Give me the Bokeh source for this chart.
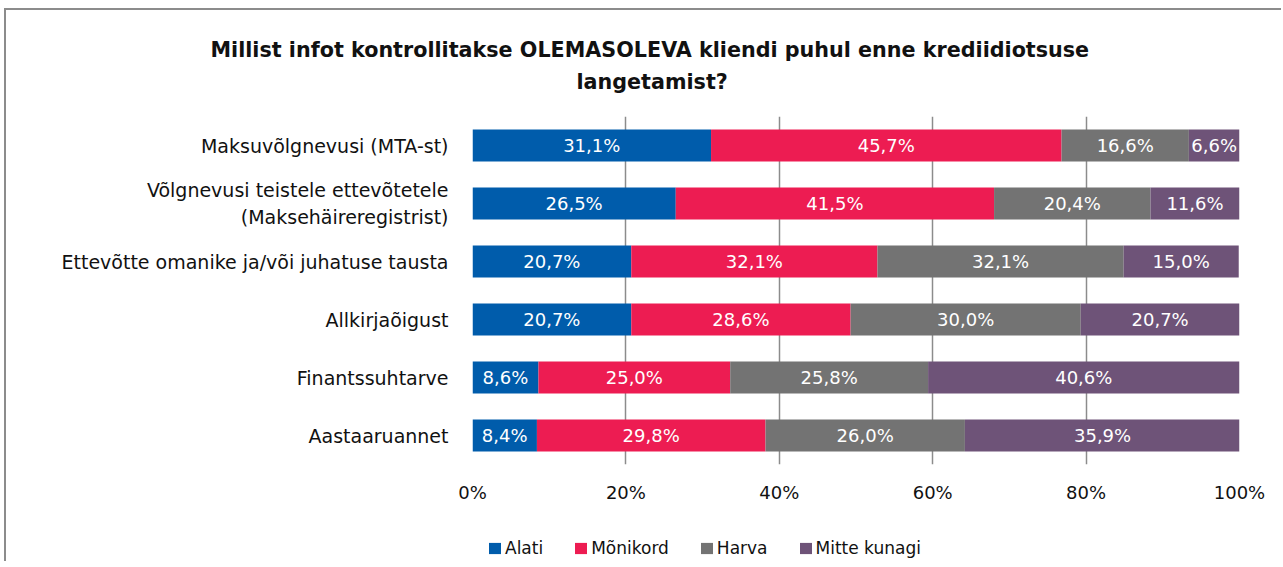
from bokeh.plotting import figure
from bokeh.layouts import column
from bokeh.models import (FactorRange, ColumnDataSource, LabelSet, Legend, LegendItem,
                          Title, FixedTicker, Range1d)
from bokeh.core.properties import value
from bokeh.embed import file_html
from bokeh.resources import INLINE

categories = ["Maksuvõlgnevusi (MTA-st)",
              "Võlgnevusi teistele ettevõtetele\n(Maksehäireregistrist)",
              "Ettevõtte omanike ja/või juhatuse tausta",
              "Allkirjaõigust",
              "Finantssuhtarve",
              "Aastaaruannet"]
series_names = ["Alati", "Mõnikord", "Harva", "Mitte kunagi"]
alati = [31.1, 26.5, 20.7, 20.7, 8.6, 8.4]
monikord = [45.7, 41.5, 32.1, 28.6, 25.0, 29.8]
harva = [16.6, 20.4, 32.1, 30.0, 25.8, 26.0]
mitte = [6.6, 11.6, 15.0, 20.7, 40.6, 35.9]
x_ticks = [0, 20, 40, 60, 80, 100]
x_tick_labels = ["0%", "20%", "40%", "60%", "80%", "100%"]
title_lines = ["Millist infot kontrollitakse OLEMASOLEVA kliendi puhul enne krediidiotsuse",
               "langetamist?"]
colors = ["#005CAB", "#ED1C52", "#737373", "#6E5378"]

FONT = "DejaVu Sans"
keys = ["alati", "monikord", "harva", "mitte"]
data = dict(cat=categories, alati=alati, monikord=monikord, harva=harva, mitte=mitte)
src = ColumnDataSource(data)

W = 1275
p = figure(width=W, height=505, output_backend="svg", toolbar_location=None,
           y_range=FactorRange(factors=list(reversed(categories))),
           x_range=Range1d(0, 100),
           min_border_left=466, min_border_right=42, min_border_top=106, min_border_bottom=51)
p.outline_line_color = None

renderers = p.hbar_stack(keys, y="cat", height=0.55, color=colors, source=src, line_color=None)

# label positions: centers of each segment
lab_x, lab_y, lab_t = [], [], []
series = [alati, monikord, harva, mitte]
for i, c in enumerate(categories):
    start = 0.0
    for s in series:
        v = s[i]
        lab_x.append(start + v / 2)
        lab_y.append(c)
        lab_t.append(f"{v:.1f}%".replace(".", ","))
        start += v
lsrc = ColumnDataSource(dict(x=lab_x, y=lab_y, t=lab_t))
labels = LabelSet(x="x", y="y", text="t", source=lsrc, text_align="center", text_baseline="middle",
                  text_color="white", text_font=value(FONT), text_font_size="18px")
p.add_layout(labels)

# grid
p.ygrid.grid_line_color = None
p.xgrid.grid_line_color = "#8c8c8c"
p.xgrid.grid_line_width = 1.5
p.xgrid.ticker = FixedTicker(ticks=x_ticks)
p.xgrid.level = "underlay"

# x axis
p.xaxis.ticker = FixedTicker(ticks=x_ticks)
p.xaxis.major_label_overrides = {t: l for t, l in zip(x_ticks, x_tick_labels)}
p.xaxis.axis_line_color = None
p.xaxis.major_tick_line_color = None
p.xaxis.minor_tick_line_color = None
p.xaxis.major_label_standoff = 11
p.xaxis.major_label_text_font = FONT
p.xaxis.major_label_text_font_size = "18px"
p.xaxis.major_label_text_color = "#111111"

# y axis
p.yaxis.axis_line_color = None
p.yaxis.major_tick_line_color = None
p.yaxis.minor_tick_line_color = None
p.yaxis.major_label_standoff = 18
p.yaxis.major_label_text_font = FONT
p.yaxis.major_label_text_font_size = "19px"
p.yaxis.major_label_text_color = "#111111"

# titles (spacer + two lines)
t0 = Title(text="\u00a0", text_font_size="1px", standoff=20)
t2 = Title(text=title_lines[1], align="left", offset=104, text_font=FONT,
           text_font_size="20.7px", text_font_style="bold", text_color="#111111", standoff=0)
t1 = Title(text=title_lines[0], align="left", offset=-262, text_font=FONT,
           text_font_size="20.7px", text_font_style="bold", text_color="#111111", standoff=12)
p.add_layout(t0, "above")
p.add_layout(t2, "above")
p.add_layout(t1, "above")

# legend strip below the chart
p2 = figure(width=W, height=46, output_backend="svg", toolbar_location=None,
            x_axis_type=None, y_axis_type=None, x_range=Range1d(0, 1), y_range=Range1d(0, 1),
            min_border=0)
p2.outline_line_color = None
p2.grid.grid_line_color = None
proxy = ColumnDataSource(dict(y=[0.5], left=[0], right=[0]))
swatches = [p2.hbar(y="y", left="left", right="right", height=0.5, source=proxy,
                    fill_color=c, line_color=None) for c in colors]
items = [LegendItem(label=n, renderers=[r]) for n, r in zip(series_names, swatches)]
legend = Legend(items=items, orientation="horizontal", location=(15, 3),
                label_text_font=FONT, label_text_font_size="17px", label_text_color="#111111",
                glyph_width=15, glyph_height=14, label_standoff=3, spacing=30,
                padding=0, margin=0, border_line_color=None, background_fill_alpha=0)
p2.add_layout(legend, "center")

layout = column(p, p2, spacing=0)
layout.styles = {"border-top": "2px solid #8c8c8c", "border-left": "2px solid #8c8c8c",
                 "margin-left": "4px", "margin-top": "8px"}

open("out.html", "w").write(file_html(layout, INLINE))
